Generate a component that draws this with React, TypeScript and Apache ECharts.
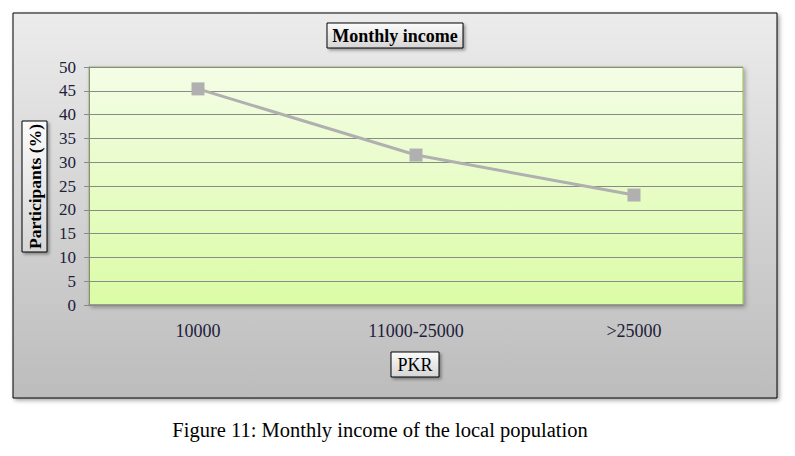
import React, { useEffect, useRef } from "react";
import * as echarts from "echarts";

const categories = ["10000", "11000-25000", ">25000"];
const participants = [45.4, 31.5, 23.1];
const yTicks = { min: 0, max: 50, interval: 5 };
const titleText = "Monthly income";
const yName = "Participants (%)";
const xName = "PKR";
const caption = "Figure 11: Monthly income of the local population";

const SERIF = "'Liberation Serif', 'DejaVu Serif', serif";

export default function App() {
  const ref = useRef<HTMLDivElement>(null);
  useEffect(() => {
    document.body.style.margin = "0";
    const chart = echarts.init(ref.current!, null, { renderer: "svg" });
    const boxFill = {
      type: "linear", x: 0, y: 0, x2: 0, y2: 1,
      colorStops: [
        { offset: 0, color: "#fbfbfb" },
        { offset: 1, color: "#d6d6d6" },
      ],
    };
    const boxStyle = {
      fill: boxFill,
      stroke: "#000",
      lineWidth: 1,
      shadowBlur: 3,
      shadowOffsetX: 2,
      shadowOffsetY: 2,
      shadowColor: "rgba(0,0,0,0.35)",
    };
    chart.setOption({
      animation: false,
      backgroundColor: "#ffffff",
      grid: {
        left: 89,
        top: 67,
        width: 654,
        height: 238,
        show: true,
        backgroundColor: {
          type: "linear", x: 0, y: 0, x2: 0, y2: 1,
          colorStops: [
            { offset: 0, color: "#f4fde6" },
            { offset: 1, color: "#dbfca6" },
          ],
        },
        borderColor: "#9bbb59",
        borderWidth: 1,
        shadowBlur: 4,
        shadowOffsetX: 2,
        shadowOffsetY: 2,
        shadowColor: "rgba(0,0,0,0.3)",
      },
      xAxis: {
        type: "category",
        data: categories,
        boundaryGap: true,
        axisLine: { show: true, lineStyle: { color: "#8a8a8a", width: 1.5 } },
        axisTick: { show: false },
        axisLabel: {
          margin: 17,
          fontFamily: SERIF,
          fontSize: 18,
          color: "#20203a",
        },
      },
      yAxis: {
        type: "value",
        min: yTicks.min,
        max: yTicks.max,
        interval: yTicks.interval,
        axisLine: { show: true, lineStyle: { color: "#8a8a8a" } },
        axisTick: { show: true, length: 5, lineStyle: { color: "#8a8a8a" } },
        splitLine: { show: true, lineStyle: { color: "#8a8a8a", width: 1 } },
        axisLabel: {
          margin: 13,
          fontFamily: SERIF,
          fontSize: 17,
          color: "#20203a",
        },
      },
      series: [
        {
          type: "line",
          data: participants,
          symbol: "rect",
          symbolSize: 13,
          lineStyle: { color: "#b0b0b0", width: 3 },
          itemStyle: { color: "#b0b0b0" },
          z: 5,
        },
      ],
      graphic: [
        {
          type: "rect",
          z: -100,
          shape: { x: 13, y: 13, width: 764, height: 385 },
          style: {
            fill: {
              type: "linear", x: 0, y: 0, x2: 0, y2: 1,
              colorStops: [
                { offset: 0, color: "#ececec" },
                { offset: 1, color: "#bcbcbc" },
              ],
            },
            stroke: "#000",
            lineWidth: 1,
            shadowBlur: 4,
            shadowOffsetX: 2,
            shadowOffsetY: 2,
            shadowColor: "rgba(0,0,0,0.35)",
          },
        },
        {
          type: "group",
          z: 100,
          children: [
            { type: "rect", shape: { x: 327, y: 23, width: 136, height: 25 }, style: boxStyle },
            {
              type: "text",
              x: 395, y: 36,
              style: {
                text: titleText,
                fontFamily: SERIF, fontSize: 18, fontWeight: "bold",
                fill: "#000", align: "center", verticalAlign: "middle",
              },
            },
            { type: "rect", shape: { x: 22, y: 121, width: 25, height: 131 }, style: boxStyle },
            {
              type: "text",
              x: 35, y: 186.5,
              rotation: Math.PI / 2,
              style: {
                text: yName,
                fontFamily: SERIF, fontSize: 17.5, fontWeight: "bold",
                fill: "#000", align: "center", verticalAlign: "middle",
              },
            },
            { type: "rect", shape: { x: 391, y: 352, width: 48, height: 25 }, style: boxStyle },
            {
              type: "text",
              x: 415, y: 365,
              style: {
                text: xName,
                fontFamily: SERIF, fontSize: 18,
                fill: "#000", align: "center", verticalAlign: "middle",
              },
            },
            {
              type: "text",
              x: 380, y: 430,
              style: {
                text: caption,
                fontFamily: SERIF, fontSize: 20.5,
                fill: "#000", align: "center", verticalAlign: "middle",
              },
            },
          ],
        },
      ],
    });
    return () => chart.dispose();
  }, []);
  return <div ref={ref} style={{ width: 795, height: 456 }} />;
}
